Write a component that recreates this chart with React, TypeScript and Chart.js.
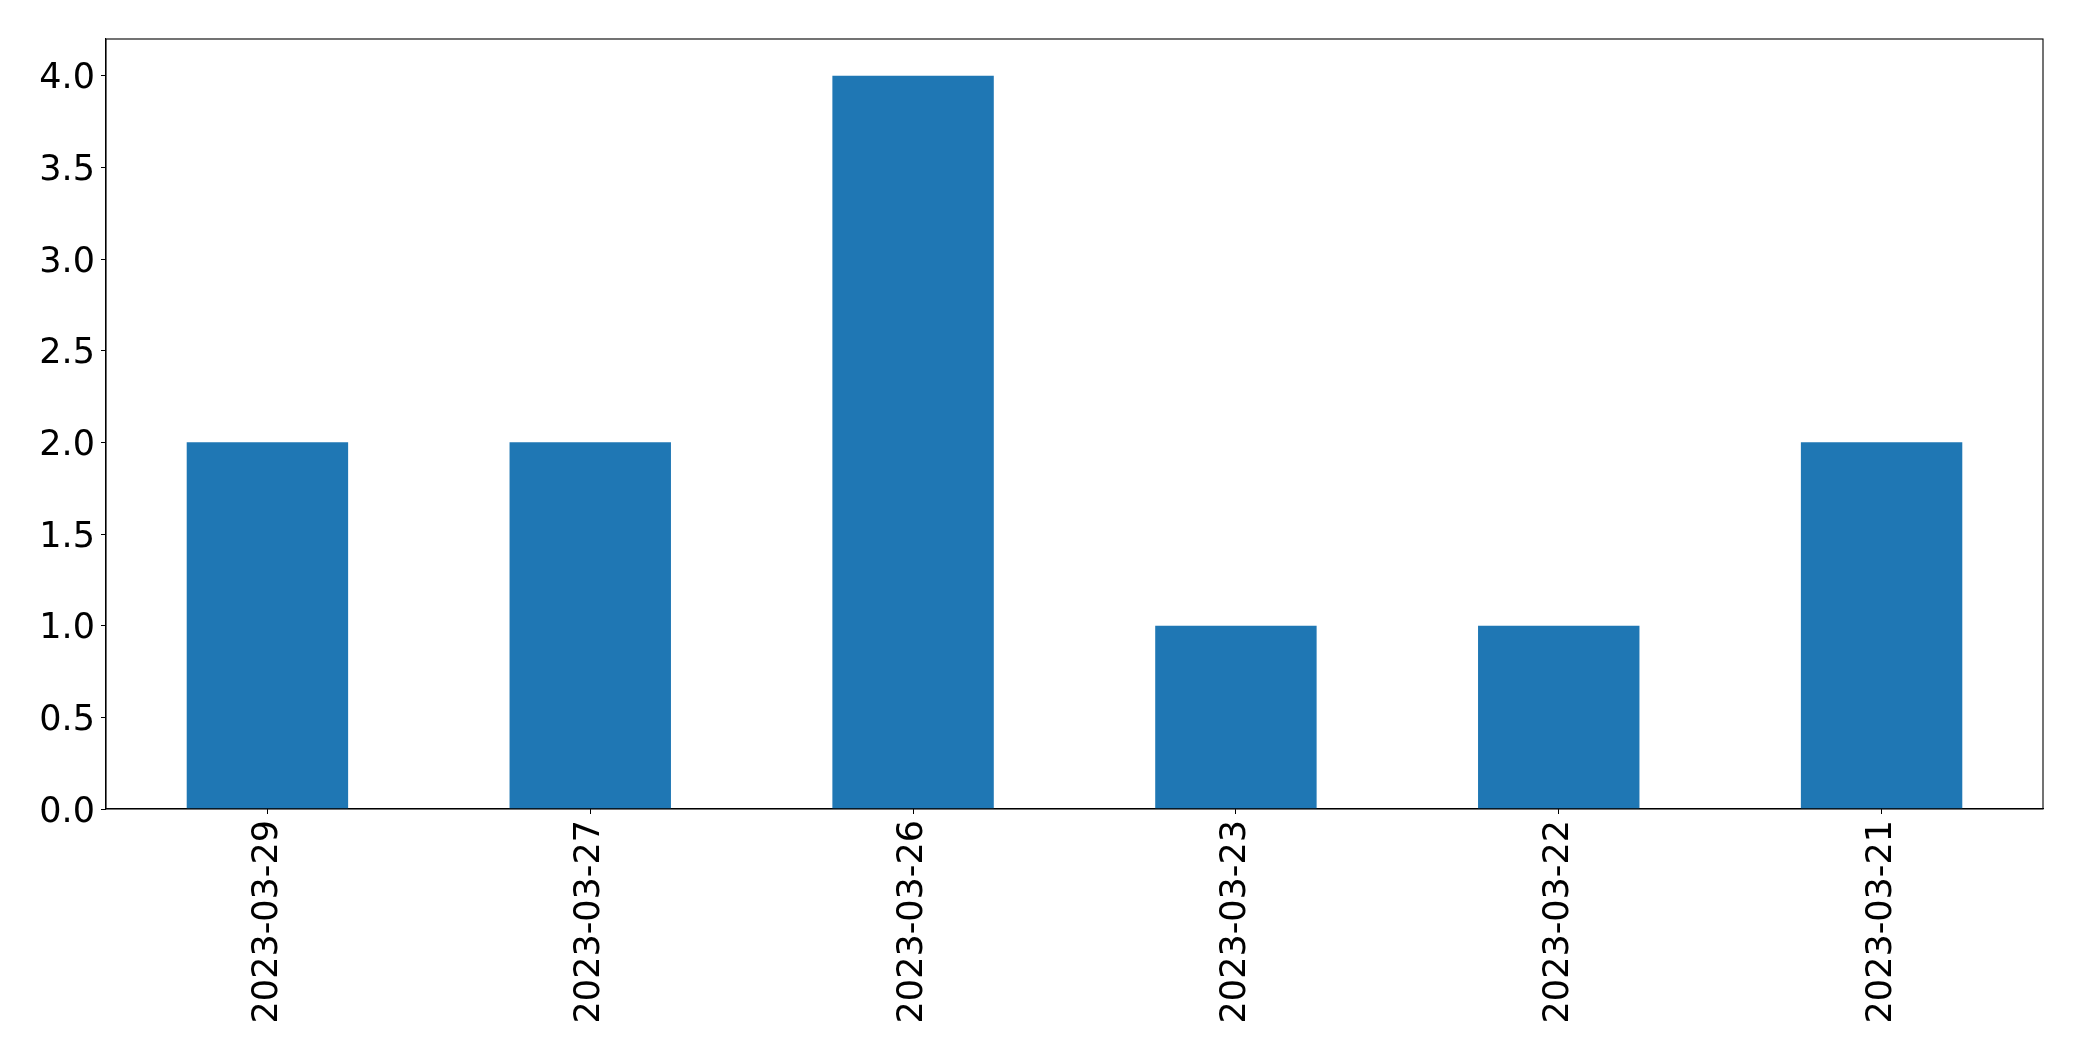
import React, { useEffect, useRef } from "react";
import { Chart, registerables } from "chart.js";

Chart.register(...registerables);

const categories = ["2023-03-29", "2023-03-27", "2023-03-26", "2023-03-23", "2023-03-22", "2023-03-21"];
const counts = [2, 2, 4, 1, 1, 2];
const yTicks = [0, 0.5, 1, 1.5, 2, 2.5, 3, 3.5, 4];

const FONT_FAMILY = "'DejaVu Sans'";
const FONT_SIZE = 35;

const framePlugin = {
  id: "frame",
  afterDraw(chart: any) {
    const { ctx, chartArea } = chart;
    ctx.save();
    ctx.strokeStyle = "#000";
    ctx.lineWidth = 1.1;
    ctx.strokeRect(chartArea.left, chartArea.top, chartArea.right - chartArea.left, chartArea.bottom - chartArea.top);
    // y tick labels, centred on the glyphs like matplotlib
    const y = chart.scales.y;
    ctx.fillStyle = "#000";
    ctx.font = `${FONT_SIZE}px ${FONT_FAMILY}`;
    ctx.textAlign = "right";
    ctx.textBaseline = "alphabetic";
    for (const t of y.ticks) {
      const py = y.getPixelForValue(t.value);
      ctx.fillText(Number(t.value).toFixed(1), chartArea.left - 11, py + 12.8);
    }
    ctx.restore();
  },
};

export default function App() {
  const ref = useRef<HTMLCanvasElement | null>(null);
  useEffect(() => {
    if (!ref.current) return;
    const font = { family: FONT_FAMILY, size: FONT_SIZE };
    const chart = new Chart(ref.current, {
      type: "bar",
      data: {
        labels: categories,
        datasets: [
          {
            data: counts,
            backgroundColor: "#1f77b4",
            barPercentage: 0.5,
            categoryPercentage: 1,
          },
        ],
      },
      options: {
        animation: false,
        responsive: false,
        maintainAspectRatio: false,
        layout: { padding: { left: 0, top: 39, right: 39, bottom: 0 } },
        plugins: { legend: { display: false }, tooltip: { enabled: false } },
        scales: {
          x: {
            offset: true,
            grid: { drawOnChartArea: false, drawTicks: true, tickLength: 5, tickColor: "#000", offset: false },
            border: { color: "#000", width: 1.1 },
            ticks: { color: "#000", font, minRotation: 90, maxRotation: 90, padding: 6, autoSkip: false },
            afterFit(scale: any) {
              scale.height = 252;
            },
          },
          y: {
            min: 0,
            max: 4.2,
            grid: { drawOnChartArea: false, drawTicks: true, tickLength: 5, tickColor: "#000" },
            border: { color: "#000", width: 1.1 },
            ticks: {
              display: false,
              color: "#000",
              font,
              padding: 5,
              callback: (v: any) => Number(v).toFixed(1),
            },
            afterBuildTicks(scale: any) {
              scale.ticks = yTicks.map((v) => ({ value: v }));
            },
            afterFit(scale: any) {
              scale.width = 106;
            },
          },
        },
      },
      plugins: [framePlugin],
    });
    return () => chart.destroy();
  }, []);
  return (
    <div style={{ position: "fixed", left: 0, top: 0, width: 2082, height: 1061, background: "#fff" }}>
      <canvas ref={ref} width={2082} height={1061} style={{ width: 2082, height: 1061 }} />
    </div>
  );
}
